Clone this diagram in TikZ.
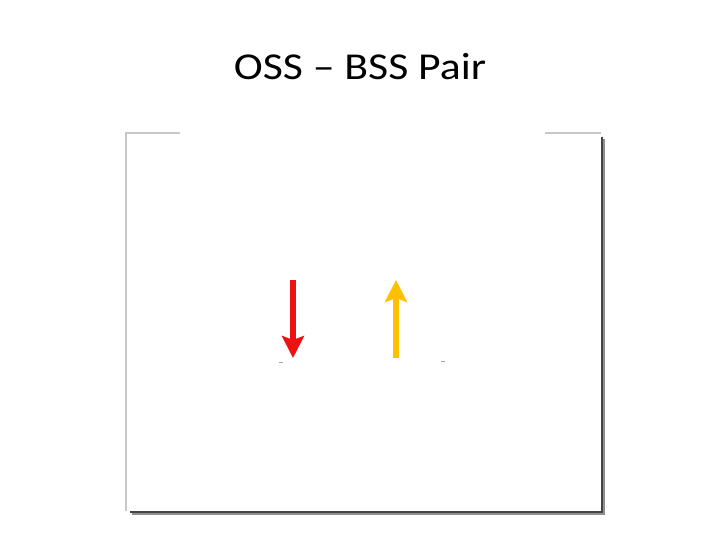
\documentclass[tikz,border=0pt]{standalone}
\usepackage{fontspec}
\setmainfont{Carlito}
\usetikzlibrary{arrows.meta}
\definecolor{spinred}{HTML}{EE1111}
\definecolor{spinyellow}{HTML}{FFC000}
\definecolor{framegray}{HTML}{C8C8C8}
\definecolor{shadowgray}{HTML}{444444}

\begin{document}
\begin{tikzpicture}[x=1pt, y=-1pt]
\useasboundingbox (0,0) rectangle (720,540);

\coordinate (FTL) at (126,133); % frame corners
\coordinate (FBR) at (601,511);

% title
\node (title) at (360,67) {\scalebox{1.15}[1]{\fontsize{38}{44}\selectfont OSS -- BSS Pair}};

% frame with shadow
\fill[shadowgray!60] (132,139) rectangle (605,515);
\fill[shadowgray] (130,137) rectangle (603,513);
\fill[white] (FTL) rectangle (FBR);
\draw[framegray, line width=1.2pt] (180,133) -- (FTL) -- (126,511);
\draw[framegray, line width=1.2pt] (545,133) -- (601,133);

% spins
\coordinate (RT) at (293,280);
\coordinate (RB) at (293,358);
\coordinate (YB) at (396,358);
\coordinate (YT) at (396,280);
\draw[spinred, line width=6pt, -{Stealth[length=22pt, width=22pt, inset=4pt]}] (RT) -- (RB);
\draw[spinyellow, line width=6pt, -{Stealth[length=22pt, width=22pt, inset=4pt]}] (YB) -- (YT);

% small marks
\draw[gray!70, line width=0.8pt] (279,362) -- (283,362);
\draw[gray!70, line width=0.8pt] (441,361) -- (445,361);
\end{tikzpicture}
\end{document}
